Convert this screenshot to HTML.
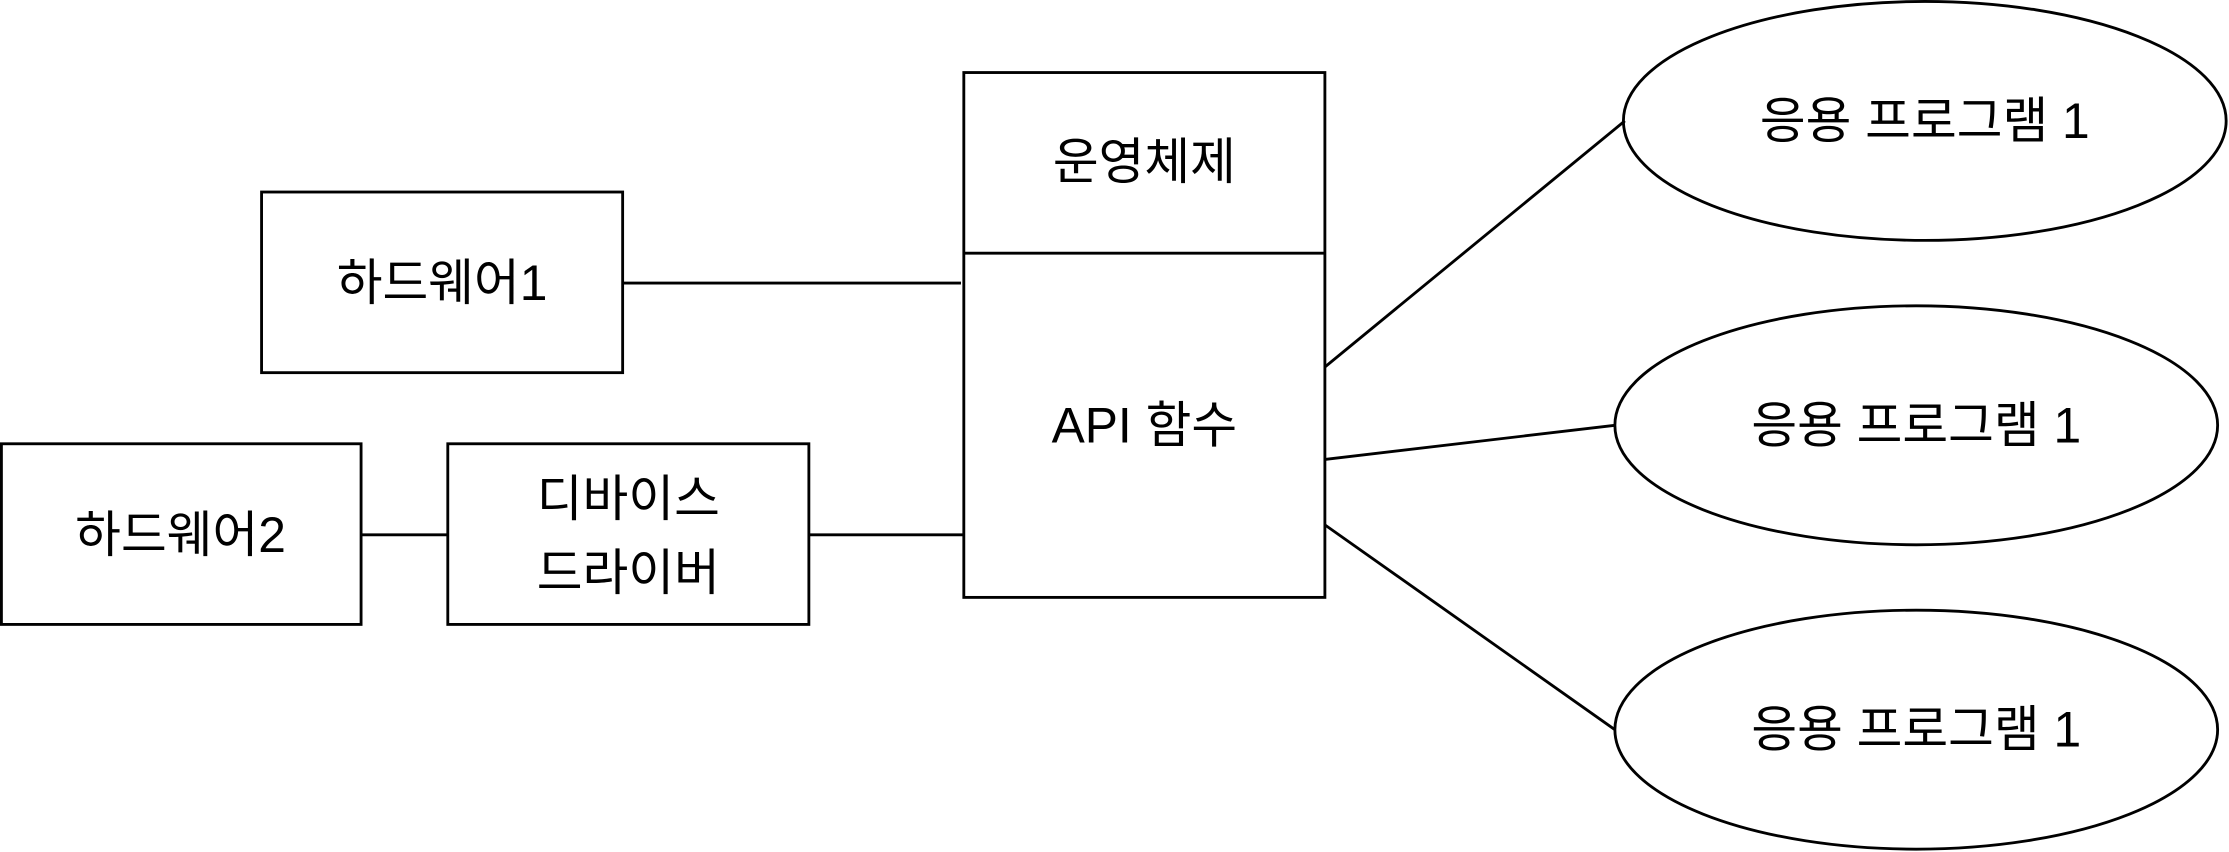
<!DOCTYPE html>
<html><head><meta charset="utf-8"><style>
html,body{margin:0;padding:0;background:#fff;width:2229px;height:852px;overflow:hidden}
svg{display:block}
text{font-family:"Liberation Sans","Noto Sans CJK KR",sans-serif;font-size:35px;fill:#000}
</style></head><body>
<svg width="2229" height="852" viewBox="0 0 1568 599" preserveAspectRatio="none">
<g fill="#fff" stroke="#000" stroke-width="2">
<rect x="184" y="135" width="254" height="127"/>
<rect x="1" y="312" width="253" height="127"/>
<rect x="315" y="312" width="254" height="127"/>
<rect x="678" y="51" width="254" height="369"/>
<line x1="678" y1="178" x2="932" y2="178"/>
<ellipse cx="1354" cy="85" rx="212" ry="84"/>
<ellipse cx="1348" cy="299" rx="212" ry="84"/>
<ellipse cx="1348" cy="513" rx="212" ry="84"/>
<line x1="438" y1="199" x2="676" y2="199"/>
<line x1="254" y1="376" x2="315" y2="376"/>
<line x1="569" y1="376" x2="678" y2="376"/>
<line x1="932" y1="258" x2="1143" y2="85"/>
<line x1="932" y1="323" x2="1136" y2="299"/>
<line x1="932" y1="369" x2="1136" y2="513"/>
</g>
<g text-anchor="middle" dominant-baseline="central">
<text x="311" y="199">하드웨어1</text>
<text x="127" y="376">하드웨어2</text>
<text x="442" y="351">디바이스</text>
<text x="442" y="403">드라이버</text>
<text x="805" y="114">운영체제</text>
<text x="805" y="299">API 함수</text>
<text x="1354" y="85">응용 프로그램 1</text>
<text x="1348" y="299">응용 프로그램 1</text>
<text x="1348" y="513">응용 프로그램 1</text>
</g>
</svg>
</body></html>
